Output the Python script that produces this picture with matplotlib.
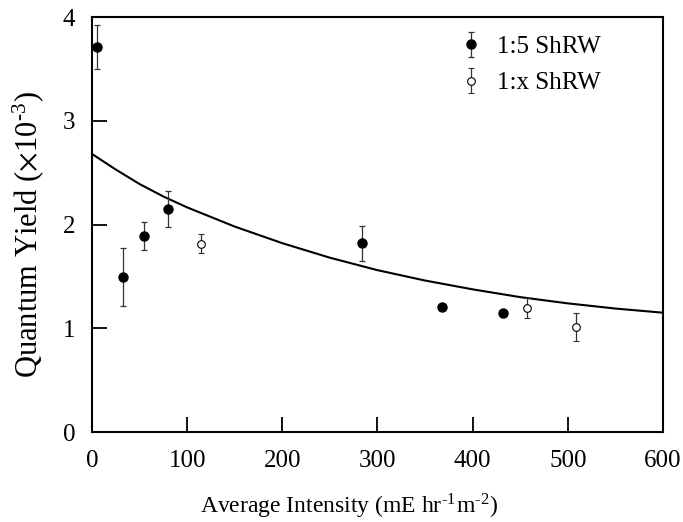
import matplotlib
matplotlib.use("Agg")
import matplotlib.pyplot as plt

plt.rcParams['font.family'] = ['Liberation Serif', 'DejaVu Serif']
plt.rcParams['mathtext.fontset'] = 'stix'

# 1:5 ShRW (filled)
x_15 = [5, 33, 55, 80, 284, 368, 432]
y_15 = [3.71, 1.49, 1.89, 2.15, 1.82, 1.205, 1.147]
e_15 = [0.21, 0.28, 0.135, 0.175, 0.17, 0.0, 0.03]

# 1:x ShRW (open)
x_1x = [115, 457, 509]
y_1x = [1.815, 1.198, 1.012]
e_1x = [0.09, 0.095, 0.137]

# fitted curve
curve_x = [0, 25, 50, 75, 100, 150, 200, 250, 300, 350, 400, 450, 500, 550, 600]
curve_y = [2.68, 2.53, 2.39, 2.27, 2.165, 1.98, 1.82, 1.68, 1.56, 1.46, 1.375, 1.30, 1.24, 1.19, 1.15]

fig = plt.figure(figsize=(6.83, 5.22), dpi=100)
ax = fig.add_axes([0.1347, 0.1724, 0.836, 0.795])

ax.plot(curve_x, curve_y, color='black', lw=1.5, zorder=2)

h1 = ax.errorbar(x_15, y_15, yerr=e_15, fmt='o', color='black', ms=6.5,
                 ecolor='#333333', elinewidth=0.9, capsize=2, capthick=0.9, zorder=3)
h2 = ax.errorbar(x_1x, y_1x, yerr=e_1x, fmt='o', color='black', mfc='white',
                 mec='black', ms=5.5, mew=0.8, ecolor='#333333', elinewidth=0.9,
                 capsize=2, capthick=0.9, zorder=3)

ax.set_xlim(0, 600)
ax.set_ylim(0, 4)
ax.set_xticks([0, 100, 200, 300, 400, 500, 600])
ax.set_yticks([0, 1, 2, 3, 4])
ax.tick_params(direction='in', length=11, width=1.3, labelsize=18)
ax.tick_params(axis='x', pad=13)
ax.tick_params(axis='y', pad=12)
for s in ax.spines.values():
    s.set_linewidth(1.5)

ax.set_xlabel('Average Intensity (mE hr$^{\\mathregular{\u20101}}$m$^{\\mathregular{\u20102}}$)',
              fontsize=17)
ax.xaxis.set_label_coords(0.45, -0.145)
ax.set_ylabel('Quantum Yield ($\\times$10$^{\\mathregular{\u20103}}$)', fontsize=22)
ax.yaxis.set_label_coords(-0.078, 0.475)

ax.legend([h1, h2], ['1:5 ShRW', '1:x ShRW'], loc='upper left',
          bbox_to_anchor=(0.679, 0.932), bbox_transform=fig.transFigure,
          frameon=False, fontsize=18, handlelength=0.6, handletextpad=0.74,
          labelspacing=0.56, borderpad=0, borderaxespad=0)

fig.savefig('out.png', dpi=100)
